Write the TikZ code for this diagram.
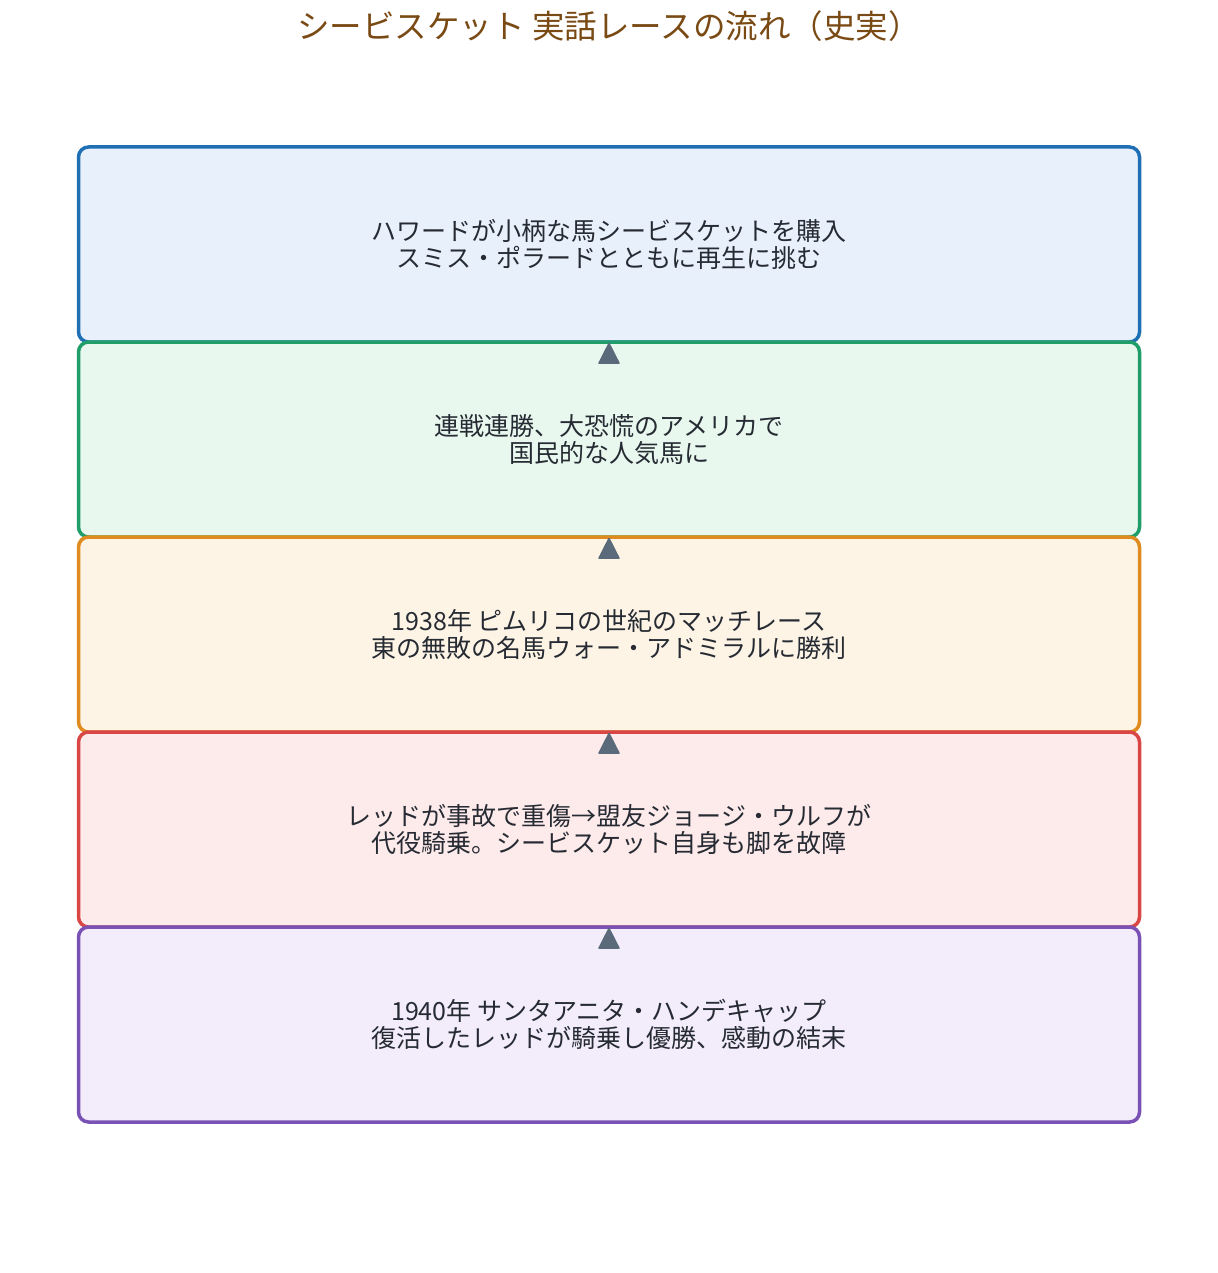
\documentclass[tikz,border=0pt]{standalone}
\usepackage{fontspec}
\newfontfamily\jpfont{Noto Sans CJK JP}
\usetikzlibrary{arrows.meta}
\definecolor{titlebrown}{HTML}{7A4A14}
\definecolor{textdark}{HTML}{262B33}
\definecolor{arrowgray}{HTML}{5A6A7A}
\definecolor{blueline}{HTML}{1F6FB4}
\definecolor{bluefill}{HTML}{E8F0FB}
\definecolor{greenline}{HTML}{1F9E6A}
\definecolor{greenfill}{HTML}{E8F8EF}
\definecolor{orangeline}{HTML}{E08B1F}
\definecolor{orangefill}{HTML}{FDF4E6}
\definecolor{redline}{HTML}{D94646}
\definecolor{redfill}{HTML}{FDEAEA}
\definecolor{purpleline}{HTML}{7A52B5}
\definecolor{purplefill}{HTML}{F2ECFB}
\begin{document}
\begin{tikzpicture}[x=1pt, y=-1pt,
    stage/.style={rectangle, rounded corners=10pt, line width=3.5pt,
        minimum width=1061pt, minimum height=195pt, inner sep=0pt,
        align=center, text=textdark, font=\jpfont\fontsize{25}{27}\selectfont},
    flow/.style={-{Triangle[length=22pt, width=22pt, round]}, arrowgray, line width=1.5pt}]
    \useasboundingbox (0,0) rectangle (1217,1273);
    % Title
    \node[font=\jpfont\fontsize{32.5}{36}\selectfont, text=titlebrown] (title) at (609,26)
        {シービスケット 実話レースの流れ（史実）};
    % Stages of the story
    \node[stage, draw=blueline, fill=bluefill] (buy) at (609,244.5)
        {ハワードが小柄な馬シービスケットを購入\\スミス・ポラードとともに再生に挑む};
    \node[stage, draw=greenline, fill=greenfill] (wins) at (609,439.5)
        {連戦連勝、大恐慌のアメリカで\\国民的な人気馬に};
    \node[stage, draw=orangeline, fill=orangefill] (match) at (609,634.5)
        {1938年 ピムリコの世紀のマッチレース\\東の無敗の名馬ウォー・アドミラルに勝利};
    \node[stage, draw=redline, fill=redfill] (injury) at (609,829.5)
        {レッドが事故で重傷→盟友ジョージ・ウルフが\\代役騎乗。シービスケット自身も脚を故障};
    \node[stage, draw=purpleline, fill=purplefill] (final) at (609,1024.5)
        {1940年 サンタアニタ・ハンデキャップ\\復活したレッドが騎乗し優勝、感動の結末};
    % Arrows between stages
    \draw[flow] ([yshift=-24pt]wins.north) -- ([yshift=1pt]buy.south);
    \draw[flow] ([yshift=-24pt]match.north) -- ([yshift=1pt]wins.south);
    \draw[flow] ([yshift=-24pt]injury.north) -- ([yshift=1pt]match.south);
    \draw[flow] ([yshift=-24pt]final.north) -- ([yshift=1pt]injury.south);
\end{tikzpicture}
\end{document}
